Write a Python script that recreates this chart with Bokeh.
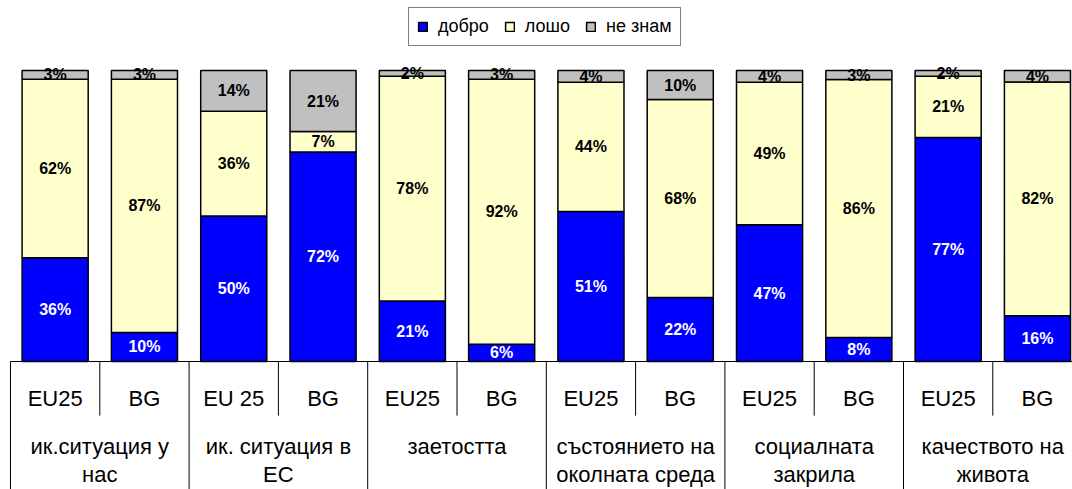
from bokeh.plotting import figure
from bokeh.models import ColumnDataSource, Legend, LegendItem, Range1d
from bokeh.core.properties import value
from bokeh.embed import file_html
from bokeh.resources import INLINE

sub_labels = ["EU25", "BG", "EU 25", "BG", "EU25", "BG", "EU25", "BG", "EU25", "BG", "EU25", "BG"]
group_labels = ["ик.ситуация у\nнас", "ик. ситуация в\nЕС", "заетостта",
                "състоянието на\nоколната среда", "социалната\nзакрила", "качеството на\nживота"]
good = [36, 10, 50, 72, 21, 6, 51, 22, 47, 8, 77, 16]
bad = [62, 87, 36, 7, 78, 92, 44, 68, 49, 86, 21, 82]
dunno = [3, 3, 14, 21, 2, 3, 4, 10, 4, 3, 2, 4]
series_names = ["добро", "лошо", "не знам"]
colors = ["#0000FF", "#FFFFCC", "#C0C0C0"]
label_colors = ["white", "black", "black"]

FONT_NAME = "Liberation Sans"
FONT = value(FONT_NAME)
n = len(sub_labels)
xs = [i + 0.5 for i in range(n)]
series = [good, bad, dunno]
totals = [g + b + d for g, b, d in zip(good, bad, dunno)]
keys = ["g", "b", "d"]
data = {"x": xs}
for k, s in zip(keys, series):
    data[k] = [v / t for v, t in zip(s, totals)]
src = ColumnDataSource(data)

px_per_cat = 89.3
px_per_unit = 291.0
fig_w, fig_h = 1072, 489
left_pad = 10
below_axis = 128
p = figure(width=fig_w, height=fig_h, output_backend="svg", toolbar_location=None,
           x_axis_location=None, y_axis_location=None,
           x_range=Range1d(-left_pad / px_per_cat, (fig_w - left_pad) / px_per_cat),
           y_range=Range1d(-below_axis / px_per_unit, (fig_h - below_axis) / px_per_unit),
           min_border_left=0, min_border_right=0, min_border_top=0, min_border_bottom=0)
p.outline_line_color = None
p.xgrid.visible = False
p.ygrid.visible = False
p.background_fill_color = "white"
p.border_fill_color = "white"

rs = p.vbar_stack(keys, x="x", width=0.74, fill_color=colors, line_color="black",
                  line_width=1.5, source=src)

# segment labels
lx, ly, lt, lc = [], [], [], []
for i in range(n):
    base = 0.0
    for k, s, c in zip(keys, series, label_colors):
        frac = data[k][i]
        lx.append(xs[i])
        ly.append(base + frac / 2)
        lt.append(f"{s[i]}%")
        lc.append(c)
        base += frac
p.text(x=lx, y=ly, text=lt, text_color=lc, text_align="center", text_baseline="middle",
       text_font=FONT, text_font_style="bold", text_font_size="16px")

# category axis
p.segment(x0=[0], y0=[0], x1=[n], y1=[0], line_color="black", line_width=1)
inner = [i for i in range(1, n, 2)]
outer = [i for i in range(0, n + 1, 2)]
p.segment(x0=inner, y0=[0] * len(inner), x1=inner, y1=[-0.186] * len(inner),
          line_color="black", line_width=1)
p.segment(x0=outer, y0=[0] * len(outer), x1=outer, y1=[-0.44] * len(outer),
          line_color="black", line_width=1)
p.text(x=xs, y=[-0.127] * n, text=sub_labels, text_align="center", text_baseline="middle",
       text_font=FONT, text_font_size="22px", text_color="black")
gx = [2 * g + 1 for g in range(len(group_labels))]
p.text(x=gx, y=[-0.250] * len(gx), text=group_labels, text_align="center", text_baseline="top",
       text_font=FONT, text_font_size="22px", text_color="black", text_line_height=1.1)

legend = Legend(items=[LegendItem(label=nm, renderers=[r]) for nm, r in zip(series_names, rs)],
                orientation="horizontal", location=(408, 443),
                label_text_font=FONT_NAME, label_text_font_size="18px", label_text_color="black",
                glyph_width=11, glyph_height=11, label_standoff=10, spacing=15,
                padding=8, margin=0, border_line_color="black", border_line_width=1,
                background_fill_color="white", background_fill_alpha=1.0)
p.add_layout(legend)

open("out.html", "w").write(file_html(p, INLINE))
